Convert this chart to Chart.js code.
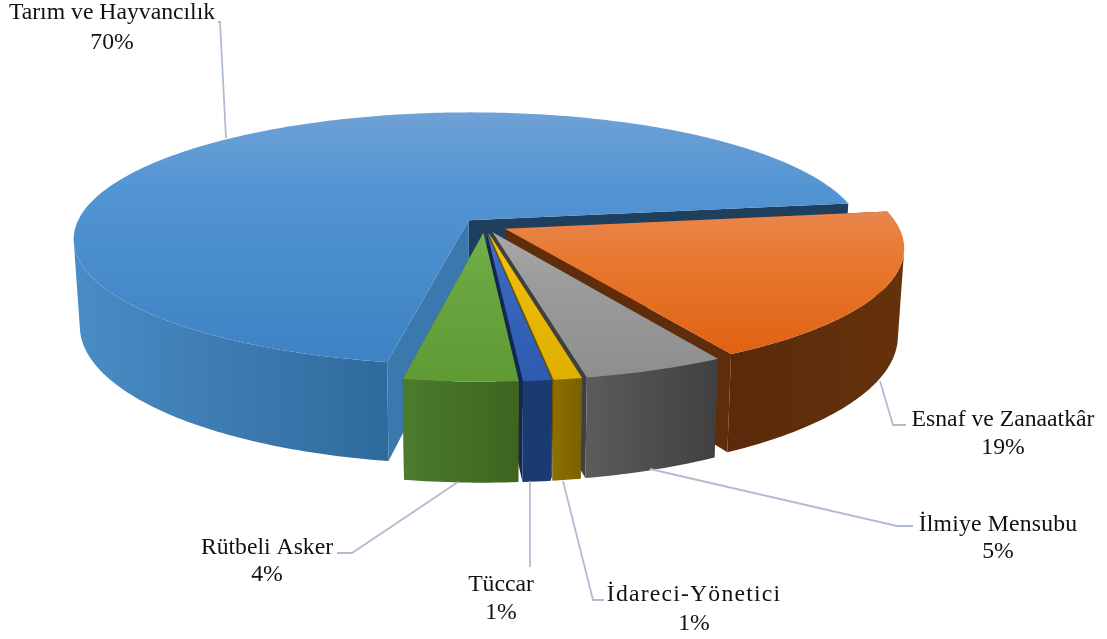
<!DOCTYPE html>
<html>
<head>
<meta charset="utf-8">
<title>Meslek dagilimi</title>
<script src="https://cdn.jsdelivr.net/npm/chart.js@4"></script>
<style>
  html, body { margin: 0; padding: 0; background: #fff; }
  canvas { display: block; }
</style>
</head>
<body>
<canvas id="pie3d" width="1107" height="639"></canvas>
<script>
// chart data, clockwise order as in the picture
var categories = ["Tarım ve Hayvancılık", "Esnaf ve Zanaatkâr", "İlmiye Mensubu", "İdareci-Yönetici", "Tüccar", "Rütbeli Asker"];
var shares = [70, 19, 5, 1, 1, 4];

// colours per slice: top face gradient, outer wall gradient, cut faces
var topStart = ["#6fa1d6", "#e8864f", "#a8a8a8", "#f8c20f", "#4470c6", "#72b04a"];
var topMid = ["#5395d3", "#e97a32", "#9d9d9d", "#efba08", "#3a67bd", "#6aa741"];
var topEnd = ["#3d82c3", "#e06212", "#8e8e8e", "#deb000", "#2c5bb0", "#5f9b35"];
var wallStart = ["#4a8cc6", "#5a2a0a", "#5b5b5b", "#8e6f00", "#1c3a72", "#4b7c2c"];
var wallEnd = ["#2f6a9c", "#66320c", "#404040", "#7a6000", "#1c3a72", "#3e6420"];
var faceStart = ["#3b78ae", "#5f2d0b", "#404040", "#6b5400", "#14284f", "#3a5e1f"];
var faceEnd = ["#1f3f5f", "#5f2d0b", "#404040", "#6b5400", "#14284f", "#3a5e1f"];

// label layout: centre x, baseline of name and of percent, then the leader line
var labelX = [112, 1003, 998, 694, 501, 267];
var nameY = [19, 426, 531, 601, 591, 554];
var pctY = [49, 454, 558, 630, 619, 581];
var nameSpacing = ["0px", "0px", "0.2px", "1.2px", "0px", "0px"];
var leaders = [
    [[226, 138], [220, 22], [218, 22]],
    [[880, 381], [893, 425], [906, 425]],
    [[650, 469], [897, 526], [913, 526]],
    [[563, 481], [593, 600], [604, 600]],
    [[530, 481], [530, 567]],
    [[458, 482], [352, 553], [337, 553]]
];

// perspective of the disc on the page
var view = { cx: 484.5, cy: 225.5, fx: 393, fy: 125, tilt: 0.145, depth: 85.5, shrink: 0.985 };

function project(px, py, lower) {
    var w = 1 - view.tilt * py;
    var sx = view.fx * px / w;
    var sy = view.fy * py / w;
    if (lower) {
        sx = sx * view.shrink;
        sy = sy + view.depth / w;
    }
    return [view.cx + sx, view.cy + sy];
}

function addPoly(ctx, pts) {
    ctx.moveTo(pts[0][0], pts[0][1]);
    for (var i = 1; i < pts.length; i++) {
        ctx.lineTo(pts[i][0], pts[i][1]);
    }
    ctx.closePath();
}

function fillPoly(ctx, pts, fill) {
    ctx.beginPath();
    addPoly(ctx, pts);
    ctx.fillStyle = fill;
    ctx.fill();
}

function quadArea(q) {
    var s = 0;
    for (var i = 0; i < 4; i++) {
        var n = q[(i + 1) % 4];
        s += q[i][0] * n[1] - n[0] * q[i][1];
    }
    return s;
}

// draws one arc element of the pie as an extruded wedge
function drawWedge(ctx, arc, idx) {
    var p = arc.getProps(["startAngle", "endAngle", "outerRadius"], true);
    var mid = (p.startAngle + p.endAngle) / 2;
    var d = arc.options.offset / p.outerRadius;
    var ox = Math.cos(mid) * d;
    var oy = Math.sin(mid) * d;
    var steps = Math.ceil((p.endAngle - p.startAngle) * 60);
    var upper = [], lower = [];
    for (var i = 0; i <= steps; i++) {
        var a = p.startAngle + (p.endAngle - p.startAngle) * i / steps;
        upper.push(project(ox + Math.cos(a), oy + Math.sin(a), false));
        lower.push(project(ox + Math.cos(a), oy + Math.sin(a), true));
    }
    var apex = project(ox, oy, false);
    var apexLow = project(ox, oy, true);

    fillPoly(ctx, [apex, upper[steps], lower[steps], apexLow], faceEnd[idx]);
    fillPoly(ctx, [apex, upper[0], lower[0], apexLow], faceStart[idx]);

    var xs = upper.map(function(q) { return q[0]; });
    var ys = upper.map(function(q) { return q[1]; }).concat(apex[1]);
    // the blue wall only shows left of its cut, so its shading ends there
    var x0 = Math.min.apply(null, xs);
    var x1 = idx === 0 ? upper[0][0] : Math.max.apply(null, xs);
    var wall = ctx.createLinearGradient(x0, 0, x1, 0);
    wall.addColorStop(0, wallStart[idx]);
    wall.addColorStop(1, wallEnd[idx]);
    // only the part of the outer wall that faces the viewer
    ctx.beginPath();
    for (var k = 0; k < steps; k++) {
        var quad = [upper[k], upper[k + 1], lower[k + 1], lower[k]];
        if (quadArea(quad) < 0) {
            addPoly(ctx, quad);
        }
    }
    ctx.fillStyle = wall;
    ctx.fill();

    var top = ctx.createLinearGradient(0, Math.min.apply(null, ys), 0, Math.max.apply(null, ys));
    top.addColorStop(0, topStart[idx]);
    top.addColorStop(0.3, topMid[idx]);
    top.addColorStop(1, topEnd[idx]);
    fillPoly(ctx, [apex].concat(upper), top);
}

var pie3dPlugin = {
    id: "pie3d",
    beforeDatasetsDraw: function(chart) {
        var ctx = chart.ctx;
        var arcs = chart.getDatasetMeta(0).data;
        ctx.save();
        for (var i = 0; i < arcs.length; i++) {
            drawWedge(ctx, arcs[i], i);
        }
        ctx.restore();
        return false;
    },
    afterDraw: function(chart) {
        var ctx = chart.ctx;
        ctx.save();
        ctx.strokeStyle = "#b0bdd0";
        ctx.lineWidth = 1.8;
        leaders.forEach(function(line) {
            ctx.beginPath();
            ctx.moveTo(line[0][0], line[0][1]);
            for (var j = 1; j < line.length; j++) {
                ctx.lineTo(line[j][0], line[j][1]);
            }
            ctx.stroke();
        });
        ctx.fillStyle = "#111";
        ctx.font = "23.7px 'Liberation Serif'";
        ctx.textAlign = "center";
        ctx.textBaseline = "alphabetic";
        categories.forEach(function(name, i) {
            ctx.letterSpacing = nameSpacing[i];
            ctx.fillText(name, labelX[i], nameY[i]);
            ctx.letterSpacing = "0px";
            ctx.fillText(shares[i] + "%", labelX[i], pctY[i]);
        });
        ctx.restore();
    }
};

var chart = new Chart(document.getElementById("pie3d").getContext("2d"), {
    type: "pie",
    data: {
        labels: categories,
        datasets: [{
            data: shares,
            backgroundColor: topStart,
            offset: 18,
            borderWidth: 0
        }]
    },
    options: {
        responsive: false,
        animation: false,
        rotation: 190,
        plugins: {
            legend: { display: false },
            tooltip: { enabled: false }
        }
    },
    plugins: [pie3dPlugin]
});
</script>
</body>
</html>
